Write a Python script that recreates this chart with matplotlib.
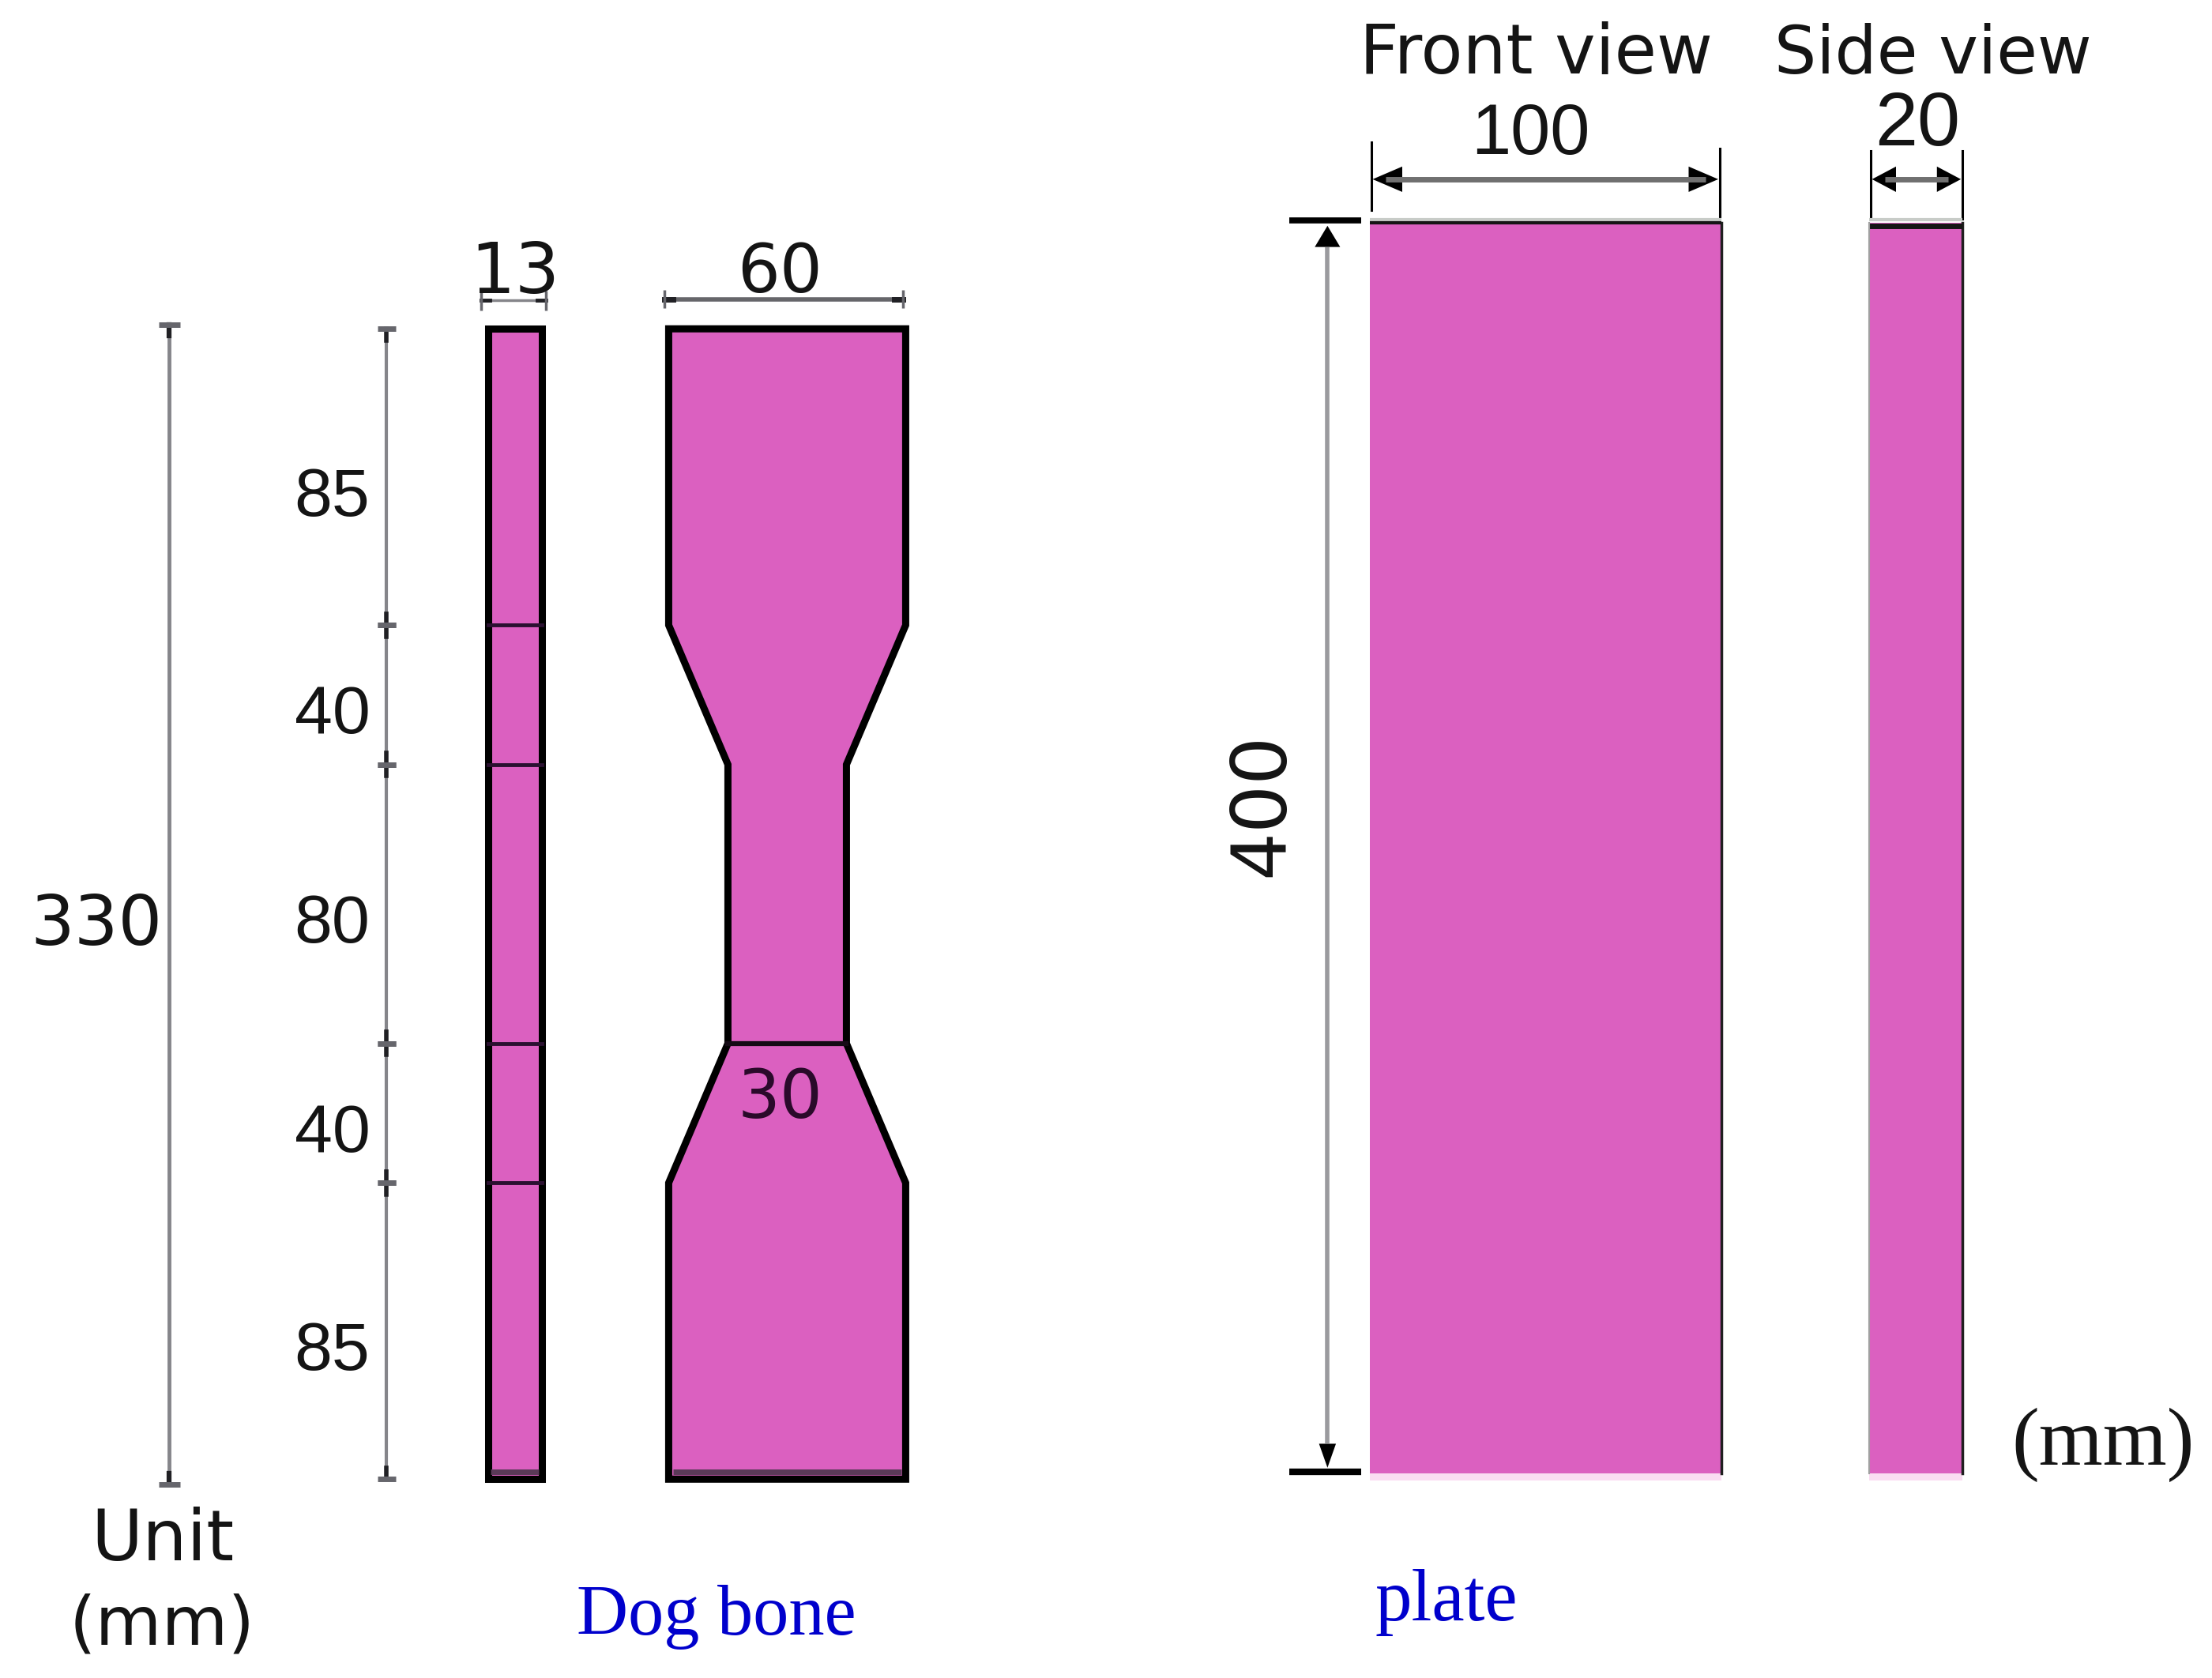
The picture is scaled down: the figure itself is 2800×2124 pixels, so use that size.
import numpy as np
import matplotlib
matplotlib.use('Agg')
from matplotlib import pyplot as plt
from matplotlib.patches import Polygon, Rectangle

# dog bone, mm
section_lengths = [85, 40, 80, 40, 85]
section_labels = ['85', '40', '80', '40', '85']
station_widths = [60, 60, 30, 30, 60, 60]
bone_thickness = 13
bone_length = 330

# plate, mm
plate_length = 400
plate_width = 100
plate_thickness = 20

PINK = '#db60c0'
GREY = '#85858a'
INK = '#141414'
SANS = 'DejaVu Sans'
ARIAL = 'Liberation Sans'
SERIF = 'Liberation Serif'
BLUE = '#0000cc'


def dim_line(ax, p0, p1, tick, lw=3.0, stub=8, tick_lw=5, color=GREY):
    """ Dimension line with small dark ends and end ticks. """
    (x0, y0), (x1, y1) = p0, p1
    ax.plot([x0, x1], [y0, y1], color=color, lw=lw, solid_capstyle='butt', zorder=2)
    if x0 == x1:
        ax.plot([x0, x0], [y0, y0 + stub], color='#202024', lw=lw + 1, zorder=3)
        ax.plot([x1, x1], [y1, y1 - stub], color='#202024', lw=lw + 1, zorder=3)
        for y in (y0, y1):
            ax.plot([x0 - tick / 2, x0 + tick / 2], [y, y], color='#66666c', lw=tick_lw,
                    solid_capstyle='butt', zorder=3)
    else:
        ax.plot([x0, x0 + stub], [y0, y0], color='#202024', lw=lw + 1, zorder=3)
        ax.plot([x1, x1 - stub], [y1, y1], color='#202024', lw=lw + 1, zorder=3)
        for x in (x0, x1):
            ax.plot([x, x], [y0 - tick / 2, y0 + tick / 2], color='#66666c', lw=2.5,
                    solid_capstyle='butt', zorder=3)


def label(ax, x, y, s, family=SANS, size=60, color=INK, **kw):
    kw.setdefault('va', 'center')
    ax.text(x, y, s, family=family, fontsize=size, ha='center', color=color, zorder=7, **kw)


def main():
    fig = plt.figure(figsize=(28, 21.24), dpi=100)
    ax = fig.add_axes([0, 0, 1, 1])
    ax.set_xlim(0, 1568)
    ax.set_ylim(1189, 0)
    ax.axis('off')

    # ---- dog bone ----
    top, sy = 233, 2.47
    stations = top + sy * np.concatenate(([0], np.cumsum(section_lengths)))
    bottom = top + sy * bone_length
    cx, sx = 558, 2.8
    half = np.array(station_widths) * sx / 2
    outline = list(zip(cx - half, stations)) + list(zip((cx + half)[::-1], stations[::-1]))
    ax.add_patch(Polygon(outline, closed=True, fc=PINK, ec='black', lw=6.5, joinstyle='miter', zorder=4))
    ax.plot([cx - half[3], cx + half[3]], [stations[3], stations[3]], color='#150a15', lw=4.5, zorder=5)
    ax.plot([cx - half[0] + 3, cx + half[0] - 3], [bottom - 5, bottom - 5], color='#5a3a58', lw=5,
            solid_capstyle='butt', zorder=5)

    # side strip
    side_cx, side_w = 365, bone_thickness * 2.92
    ax.add_patch(Rectangle((side_cx - side_w / 2, top), side_w, bottom - top,
                           fc=PINK, ec='black', lw=6.5, zorder=4))
    for y in stations[1:-1]:
        ax.plot([side_cx - side_w / 2, side_cx + side_w / 2], [y, y], color='#2a1030', lw=3.5, zorder=5)
    ax.plot([side_cx - side_w / 2 + 2, side_cx + side_w / 2 - 2], [bottom - 5, bottom - 5], color='#5a3a58',
            lw=5, solid_capstyle='butt', zorder=5)

    # dimension lines on the left
    dim_line(ax, (120, 230), (120, 1052), 15, lw=3.5)
    for y0, y1 in zip(stations[:-1], stations[1:]):
        dim_line(ax, (274, y0), (274, y1), 13, lw=3)
    mids = (stations[:-1] + stations[1:]) / 2
    for y, s in zip(mids, section_labels):
        label(ax, 235.5, y + 15, s, family=ARIAL, size=62)
    label(ax, 68, 656, str(bone_length), size=63)

    dim_line(ax, (341, 213), (387, 213), 14, lw=2.5, stub=6)
    dim_line(ax, (471, 212), (640, 212), 13, lw=4, stub=6, color='#66666a')
    label(ax, 365, 194, str(bone_thickness), size=64)
    label(ax, 553, 194, str(station_widths[0]), size=61)
    label(ax, 553, 779, str(station_widths[2]), size=61, color='#2a0a2a')

    label(ax, 115, 1092, 'Unit', size=64)
    label(ax, 115, 1152, '(mm)', size=62)
    label(ax, 508, 1158, 'Dog bone', family=SERIF, size=65, color=BLUE, va='baseline')
    label(ax, 1025, 1148, 'plate', family=SERIF, size=67, color=BLUE, va='baseline')

    # ---- plate ----
    p_top, p_sy = 158, 2.215
    p_bottom = p_top + p_sy * plate_length
    front_x, front_sx = 971, 2.49
    front_r = front_x + front_sx * plate_width
    side_x, side_sx = 1325, 3.3
    side_r = side_x + side_sx * plate_thickness

    for x0, x1 in ((front_x, front_r), (side_x, side_r)):
        ax.add_patch(Rectangle((x0, p_top), x1 - x0, p_bottom - p_top, fc=PINK, ec='none', zorder=4))
        ax.add_patch(Rectangle((x0, p_bottom), x1 - x0, 5, fc='#fadcf2', ec='none', zorder=4))
        ax.plot([x0, x1], [155.5, 155.5], color='#c8ccc8', lw=3, solid_capstyle='butt', zorder=5)
        ax.plot([x1, x1], [p_top, p_bottom], color='#202020', lw=2.5, zorder=5)
    ax.plot([front_x, front_r], [p_top, p_top], color='#151515', lw=3, solid_capstyle='butt', zorder=5)
    ax.plot([side_x, side_r], [160, 160], color='#151515', lw=5, solid_capstyle='butt', zorder=5)
    ax.plot([side_x, side_x], [p_top, p_bottom], color='#a0a0a0', lw=1.5, zorder=5)

    # extension lines
    ax.plot([front_x + 1, front_x + 1], [101, 149], color='black', lw=2.2)
    ax.plot([front_r - 1, front_r - 1], [105, 155], color='black', lw=2.2)
    ax.plot([side_x + 1, side_x + 1], [107, 155], color='black', lw=2.2)
    ax.plot([side_r, side_r], [107, 155], color='black', lw=2.2)
    ax.plot([914, 965], [156, 156], color='black', lw=5.5, solid_capstyle='butt')
    ax.plot([914, 965], [1043, 1043], color='black', lw=6, solid_capstyle='butt')

    # arrows
    for (x0, x1), head in (((front_x + 1, front_r - 1), 22), ((side_x + 1, side_r), 18)):
        ax.plot([x0 + 10, x1 - 10], [127, 127], color='#707070', lw=5, solid_capstyle='butt')
        ax.add_patch(Polygon([(x0 + 1, 127), (x0 + head, 118), (x0 + head, 136)], fc='black', ec='none'))
        ax.add_patch(Polygon([(x1 - 1, 127), (x1 - head, 118), (x1 - head, 136)], fc='black', ec='none'))
    ax.plot([941, 941], [175, 1023], color='#9a9a9e', lw=4, solid_capstyle='butt')
    ax.add_patch(Polygon([(941, 160), (932, 175), (950, 175)], fc='black', ec='none'))
    ax.add_patch(Polygon([(941, 1040), (935, 1023), (947, 1023)], fc='black', ec='none'))

    label(ax, 1089, 52, 'Front view', size=62.5, va='baseline')
    label(ax, 1370, 52, 'Side view', size=60.5, va='baseline')
    label(ax, 1085, 109, str(plate_width), family=ARIAL, size=65, va='baseline')
    label(ax, 1359, 103, str(plate_thickness), family=ARIAL, size=70, va='baseline')
    label(ax, 895, 570, str(plate_length), size=69, rotation=90)
    label(ax, 1491, 1038, '(mm)', family=SERIF, size=75, va='baseline')

    fig.savefig('out.png', dpi=100, facecolor='white')


if __name__ == '__main__':
    main()
